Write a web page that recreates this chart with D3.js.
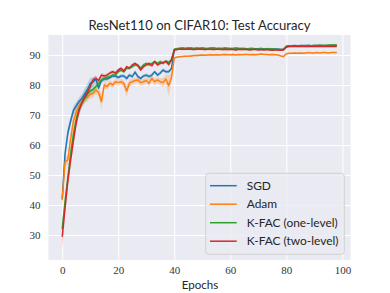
<!DOCTYPE html>
<html><head><meta charset="utf-8">
<script src="https://cdn.jsdelivr.net/npm/d3@7"></script>
<style>body{margin:0;background:#fff}svg{display:block}</style>
</head><body><svg id="c" width="390" height="293"></svg>
<script>
const title = "ResNet110 on CIFAR10: Test Accuracy";
const xLabel = "Epochs";
const seriesNames = ["SGD", "Adam", "K-FAC (one-level)", "K-FAC (two-level)"];
const seriesColors = ["#1f77b4", "#ff7f0e", "#2ca02c", "#d62728"];
const xTicks = [0, 20, 40, 60, 80, 100];
const yTicks = [30, 40, 50, 60, 70, 80, 90];

const sgd = [42,57,64,68,71.5,73,74.5,75.5,77,78.5, 80.5,81,82,79,81.5,82,82,82.5,83,83,
 82.5,83,83,82.2,83.3,82.8,84.3,82.8,82.2,83, 83.3,82.8,83.3,84.4,83.3,84,85,84.4,84.4,85.5,
 91.7,92.1,92.2,92.3,92.2,92.3,92.2,92.1,92.3,92.2, 92.3,92.2,92.1,92.2,92.3,92.2,92.2,92.1,92.3,92.2,
 92.1,92.2,92.3,92.2,92.1,92.2,92.0,92.2,92.1,92.0, 92.1,92.2,92.0,92.1,92.0,91.9,92.0,91.9,91.8,91.9,
 92.9,93.1,93.1,93.2,93.1,93.2,93.1,93.2,93.2,93.1, 93.2,93.2,93.1,93.2,93.2,93.1,93.2,93.2,93.2];
const adam = [41.7,54.4,55,62,68,71,73,74.5,75.5,76, 77,77.2,78.3,77.5,74.5,80,79.5,80.6,80,81.1,
 80.8,81.1,80.5,78,80.6,81.1,81.5,81.7,80.8,81.1, 81.5,80.6,82.2,81.1,81.7,81.1,80.8,82,79.8,82.5,
 89.0,89.3,89.4,89.5,89.6,89.6,89.7,89.8,89.8,89.9, 90.0,89.9,90.0,90.1,90.0,90.1,90.0,90.1,90.2,90.1,
 90.1,90.2,90.0,90.2,90.1,90.2,90.2,90.1,90.2,90.1, 90.2,90.3,90.2,90.2,90.1,90.2,90.1,90.0,89.7,89.5,
 90.4,90.6,90.6,90.7,90.6,90.7,90.6,90.7,90.8,90.7, 90.7,90.8,90.7,90.8,90.8,90.7,90.8,90.8,90.8];
const kfac1 = [32,41,49,57,63.5,68.5,72,74,75.5,77, 78,78.5,79.5,80.5,81.7,82.2,82.5,82.8,83.3,83.3,
 84.4,85,84.4,85.6,85.6,86.1,86.7,86.7,85.6,86.7, 87.2,86.7,87.2,87.8,87.2,87.8,87.2,88,87.5,88.5,
 91.9,92.1,92.2,92.2,92.1,92.2,92.3,92.2,92.1,92.2, 92.2,92.1,92.2,92.3,92.2,92.1,92.2,92.2,92.1,92.2,
 92.2,92.1,91.9,92.1,92.2,92.1,91.9,92.1,92.2,92.0, 91.9,92.1,91.9,92.0,92.1,92.0,91.9,91.9,91.8,91.9,
 92.9,93.0,93.1,93.0,93.1,93.1,93.2,93.1,93.2,93.1, 93.2,93.2,93.3,93.2,93.2,93.3,93.3,93.3,93.4];
const kfac2 = [29.4,39,48,55,61.5,67.5,71.5,74,76,77.5, 79.5,81.7,82.2,81.5,83.3,83,83.3,84,84.4,84,
 85,85.6,84.7,86.1,85.6,86.7,87.2,86.4,85,86.1, 86.7,87.2,86.4,87.8,86.7,87.2,87.5,87.8,86.8,88.3,
 91.6,91.8,92.0,91.9,91.9,92.0,91.9,91.8,91.9,92.0, 91.9,91.8,91.9,91.9,91.8,91.9,91.9,91.8,91.9,91.8,
 91.9,91.8,91.7,91.9,91.8,91.9,91.8,91.7,91.8,91.9, 91.7,91.8,91.7,91.8,91.7,91.6,91.7,91.7,91.6,91.7,
 92.6,92.8,92.8,92.9,92.8,92.8,92.9,92.8,92.8,92.9, 92.8,92.9,92.8,92.9,92.8,92.9,92.8,92.9,92.8];

const sgdStd = [2,2,1.8,1.5,1.5,1.3,1.3,1.5,1.8,2, 1.8,1.5,1.2,1,0.8,0.8,0.8,0.7,0.7,0.7,
 0.7,0.6,0.7,0.8,0.6,0.6,0.7,0.7,0.6,0.6, 0.6,0.7,0.6,0.6,0.6,0.7,0.6,0.6,0.6,0.7,
 0.4,0.3,0.3,0.3,0.3,0.3,0.3,0.3,0.3,0.3, 0.3,0.3,0.3,0.3,0.3,0.3,0.3,0.3,0.3,0.3,
 0.3,0.3,0.3,0.3,0.3,0.3,0.3,0.3,0.3,0.3, 0.3,0.3,0.3,0.3,0.3,0.3,0.3,0.3,0.3,0.3,
 0.3,0.2,0.2,0.2,0.2,0.2,0.2,0.2,0.2,0.2, 0.2,0.2,0.2,0.2,0.2,0.2,0.2,0.2,0.2];
const adamStd = [2,1.5,1.5,2,2,1.8,1.5,1.5,1.5,1.5, 1.5,1.5,1.2,1.5,2.5,1.2,1,1,1,1,
 1,1,1.2,2,1.2,1,1,1,1.2,1, 1,1.2,1,1.2,1,1.2,1.5,1.5,3.5,1.5,
 0.4,0.3,0.3,0.3,0.3,0.3,0.3,0.3,0.3,0.3, 0.3,0.3,0.3,0.3,0.3,0.3,0.3,0.3,0.3,0.3,
 0.3,0.3,0.3,0.3,0.3,0.3,0.3,0.3,0.3,0.3, 0.3,0.3,0.3,0.3,0.3,0.3,0.3,0.3,0.3,0.3,
 0.3,0.2,0.2,0.2,0.2,0.2,0.2,0.2,0.2,0.2, 0.2,0.2,0.2,0.2,0.2,0.2,0.2,0.2,0.2];
const kfac1Std = [2.5,2.5,2.5,2.5,2,2,1.8,1.5,1.5,1.8, 1.5,1.3,1.2,1,0.8,0.7,0.7,0.6,0.6,0.6,
 0.5,0.5,0.5,0.5,0.5,0.5,0.5,0.5,0.5,0.5, 0.5,0.5,0.5,0.5,0.5,0.5,0.5,0.5,0.5,0.5,
 0.3,0.3,0.3,0.3,0.3,0.3,0.3,0.3,0.3,0.3, 0.3,0.3,0.3,0.3,0.3,0.3,0.3,0.3,0.3,0.3,
 0.3,0.3,0.3,0.3,0.3,0.3,0.3,0.3,0.3,0.3, 0.3,0.3,0.3,0.3,0.3,0.3,0.3,0.3,0.3,0.3,
 0.2,0.2,0.2,0.2,0.2,0.2,0.2,0.2,0.2,0.2, 0.2,0.2,0.2,0.2,0.2,0.2,0.2,0.2,0.2];
const kfac2Std = [4,3,2.5,2,2,1.8,1.5,1.3,1.2,1.2, 1,0.9,0.8,0.8,0.7,0.7,0.6,0.6,0.6,0.6,
 0.5,0.5,0.5,0.5,0.5,0.5,0.5,0.5,0.5,0.5, 0.5,0.5,0.5,0.5,0.5,0.5,0.5,0.5,0.5,0.5,
 0.3,0.3,0.3,0.3,0.3,0.3,0.3,0.3,0.3,0.3, 0.3,0.3,0.3,0.3,0.3,0.3,0.3,0.3,0.3,0.3,
 0.3,0.3,0.3,0.3,0.3,0.3,0.3,0.3,0.3,0.3, 0.3,0.3,0.3,0.3,0.3,0.3,0.3,0.3,0.3,0.3,
 0.2,0.2,0.2,0.2,0.2,0.2,0.2,0.2,0.2,0.2, 0.2,0.2,0.2,0.2,0.2,0.2,0.2,0.2,0.2];

const means = [sgd, adam, kfac1, kfac2];
const stds = [sgdStd, adamStd, kfac1Std, kfac2Std];

const svg = d3.select("#c");
const L = 48.5, R = 350.5, T = 35, B = 260;
const x = d3.scaleLinear().domain([-4.9, 102.9]).range([L, R]);
const y = d3.scaleLinear().domain([21.667, 96.667]).range([B, T]);

svg.append("rect").attr("x", L).attr("y", T).attr("width", R - L).attr("height", B - T).attr("fill", "#eaeaf2");

const gx = svg.append("g").attr("transform", `translate(0,${B})`)
  .call(d3.axisBottom(x).tickValues(xTicks).tickSize(-(B - T)).tickPadding(6).tickFormat(d3.format("d")));
const gy = svg.append("g").attr("transform", `translate(${L},0)`)
  .call(d3.axisLeft(y).tickValues(yTicks).tickSize(-(R - L)).tickPadding(8).tickFormat(d3.format("d")));
[gx, gy].forEach(g => {
  g.select(".domain").remove();
  g.selectAll(".tick line").attr("stroke", "#fff").attr("stroke-width", 1);
  g.selectAll(".tick text").attr("fill", "#333").attr("font-family", "'Liberation Serif', serif").attr("font-size", 11);
});

const clip = svg.append("clipPath").attr("id", "pc").append("rect")
  .attr("x", L).attr("y", T).attr("width", R - L).attr("height", B - T);
const plot = svg.append("g").attr("clip-path", "url(#pc)");

means.forEach((m, i) => {
  const s = stds[i];
  const area = d3.area().x((d, j) => x(j)).y0((d, j) => y(m[j] - s[j])).y1((d, j) => y(m[j] + s[j]));
  plot.append("path").datum(m).attr("d", area).attr("fill", seriesColors[i]).attr("fill-opacity", 0.25);
});
means.forEach((m, i) => {
  const line = d3.line().x((d, j) => x(j)).y(d => y(d));
  plot.append("path").datum(m).attr("d", line).attr("fill", "none")
    .attr("stroke", seriesColors[i]).attr("stroke-width", 1.5).attr("stroke-linejoin", "round");
});

function fit(t, w) {
  let fs = +t.attr("font-size");
  const cw = t.node().getComputedTextLength();
  if (cw > 0) t.attr("font-size", fs * w / cw);
}

const sans = "Lato, 'Open Sans', sans-serif";
const tt = svg.append("text").attr("x", 199.5).attr("y", 29.5).attr("text-anchor", "middle")
  .attr("font-family", sans).attr("font-size", 13).attr("fill", "#262626").text(title);
fit(tt, 222);
const xl = svg.append("text").attr("x", 200).attr("y", 289).attr("text-anchor", "middle")
  .attr("font-family", sans).attr("font-size", 12).attr("fill", "#262626").text(xLabel);
fit(xl, 36.5);

// legend
const lg = svg.append("g");
lg.append("rect").attr("x", 205.7).attr("y", 173.3).attr("width", 138.6).attr("height", 81)
  .attr("rx", 3).attr("fill", "#eaeaf2").attr("fill-opacity", 0.8).attr("stroke", "#cccccc").attr("stroke-width", 0.8);
const rowY = [185.7, 204.2, 222.7, 241.2];
let fsLeg = 11;
seriesNames.forEach((n, i) => {
  lg.append("line").attr("x1", 210).attr("x2", 236.7).attr("y1", rowY[i]).attr("y2", rowY[i])
    .attr("stroke", seriesColors[i]).attr("stroke-width", 1.5);
  const t = lg.append("text").attr("x", 246.7).attr("y", rowY[i]).attr("dy", "0.35em")
    .attr("font-family", sans).attr("font-size", 11).attr("fill", "#262626").text(n);
  if (i === 3) { fit(t, 92); fsLeg = +t.attr("font-size"); }
});
lg.selectAll("text").attr("font-size", fsLeg);
</script></body></html>
